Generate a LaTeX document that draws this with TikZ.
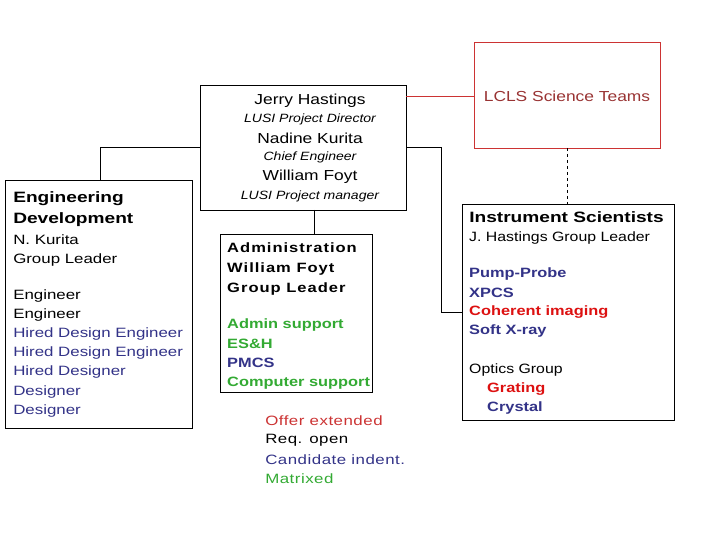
\documentclass[tikz,border=0pt]{standalone}
\usepackage{fontspec}
\setmainfont{Liberation Sans}
\definecolor{cblue}{HTML}{333388}
\definecolor{cgreen}{HTML}{33AA33}
\definecolor{cred}{HTML}{DD1111}
\definecolor{dred}{HTML}{993333}
\definecolor{lred}{HTML}{CC3333}
\begin{document}
\begin{tikzpicture}[x=1pt,y=-1pt,
  box/.style={draw,line width=0.7pt},
  t/.style={anchor=west,inner sep=0pt,transform shape,xscale=1.25,font=\fontsize{13.5}{15}\selectfont},
  tbb/.style={t,xscale=0.97,font=\fontsize{13.5}{15}\selectfont\bfseries},
  tb/.style={t,xscale=1.02,font=\fontsize{15}{17}\selectfont\bfseries},
  ta/.style={t,xscale=0.98,font=\fontsize{13.5}{15}\selectfont\bfseries\addfontfeature{LetterSpace=6}},
  nm/.style={inner sep=0pt,transform shape,xscale=1.2,font=\fontsize{14.5}{16}\selectfont},
  it/.style={inner sep=0pt,transform shape,xscale=1.17,font=\fontsize{12}{14}\selectfont\itshape},
  lg/.style={t,xscale=1.0,font=\fontsize{13.5}{15}\selectfont\addfontfeature{LetterSpace=3}}]
\useasboundingbox (0,0) rectangle (720,540);
\fill[white] (0,0) rectangle (720,540);
% boxes
\node[box,minimum width=206,minimum height=125,anchor=north west,inner sep=0] (top) at (200,85) {};
\node[draw=lred,line width=0.7pt,minimum width=186,minimum height=106,anchor=north west,inner sep=0] (lcls) at (474,42) {};
\node[box,minimum width=187,minimum height=248,anchor=north west,inner sep=0] (eng) at (5,180) {};
\node[box,minimum width=152,minimum height=158,anchor=north west,inner sep=0] (adm) at (220,234) {};
\node[box,minimum width=212,minimum height=216,anchor=north west,inner sep=0] (ins) at (462,204) {};
\coordinate (c1) at (100,147);
\coordinate (c2) at (441,147);
\coordinate (c3) at (441,312);
\coordinate (a1) at (314,210);
\coordinate (r1) at (406,96);
\coordinate (d1) at (567,148);
% connectors
\draw[line width=0.6pt] (top.west|-c1) -| (eng.north-|c1);
\draw[line width=0.6pt] (top.east|-c2) -- (c2) -- (c3) -- (ins.west|-c3);
\draw[line width=0.6pt] (a1) -- (adm.north-|a1);
\draw[lred,line width=0.6pt] (r1) -- (lcls.west|-r1);
\draw[dashed,line width=0.6pt] (d1) -- (ins.north-|d1);
% top box text
\node[nm] (n1) at (310,101) {Jerry Hastings};
\node[it] (n2) at (310,119) {LUSI Project Director};
\node[nm] (n3) at (310,138) {Nadine Kurita};
\node[it] (n4) at (310,157) {Chief Engineer};
\node[nm] (n5) at (310,177) {William Foyt};
\node[it] (n6) at (310,196) {LUSI Project manager};
\node[nm,text=dred] (l1) at (567,96) {LCLS Science Teams};
% eng
\node[tb] (e1) at (13,199) {Engineering};
\node[tb] (e2) at (13,220) {Development};
\node[t] (e3) at (13,240) {N. Kurita};
\node[t] (e4) at (13,260) {Group Leader};
\node[t] (e5) at (13,296) {Engineer};
\node[t] (e6) at (13,315) {Engineer};
\node[t,text=cblue] (e7) at (13,334) {Hired Design Engineer};
\node[t,text=cblue] (e8) at (13,353) {Hired Design Engineer};
\node[t,text=cblue] (e9) at (13,372) {Hired Designer};
\node[t,text=cblue] (e10) at (13,392) {Designer};
\node[t,text=cblue] (e11) at (13,411) {Designer};
% admin
\node[ta] (a2) at (227,248) {Administration};
\node[ta] (a3) at (227,269) {William Foyt};
\node[ta] (a4) at (227,289) {Group Leader};
\node[tbb,text=cgreen] (a5) at (227,325) {Admin support};
\node[tbb,text=cgreen] (a6) at (227,344) {ES\&H};
\node[tbb,text=cblue] (a7) at (227,363) {PMCS};
\node[tbb,text=cgreen] (a8) at (227,383) {Computer support};
% instrument
\node[tb] (i1) at (469,217) {Instrument Scientists};
\node[t,xscale=0.94] (i2) at (469,238) {J. Hastings Group Leader};
\node[tbb,text=cblue] (i3) at (469,274) {Pump-Probe};
\node[tbb,text=cblue] (i4) at (469,293) {XPCS};
\node[tbb,text=cred] (i5) at (469,312) {Coherent imaging};
\node[tbb,text=cblue] (i6) at (469,331) {Soft X-ray};
\node[t,xscale=0.94] (i7) at (469,370) {Optics Group};
\node[tbb,text=cred] (i8) at (487,389) {Grating};
\node[tbb,text=cblue] (i9) at (487,408) {Crystal};
% legend
\node[lg,text=lred] (g1) at (265,421) {Offer extended};
\node[lg] (g2) at (265,440) {Req. open};
\node[lg,text=cblue] (g3) at (265,460) {Candidate indent.};
\node[lg,text=cgreen] (g4) at (265,479) {Matrixed};
\end{tikzpicture}
\end{document}
